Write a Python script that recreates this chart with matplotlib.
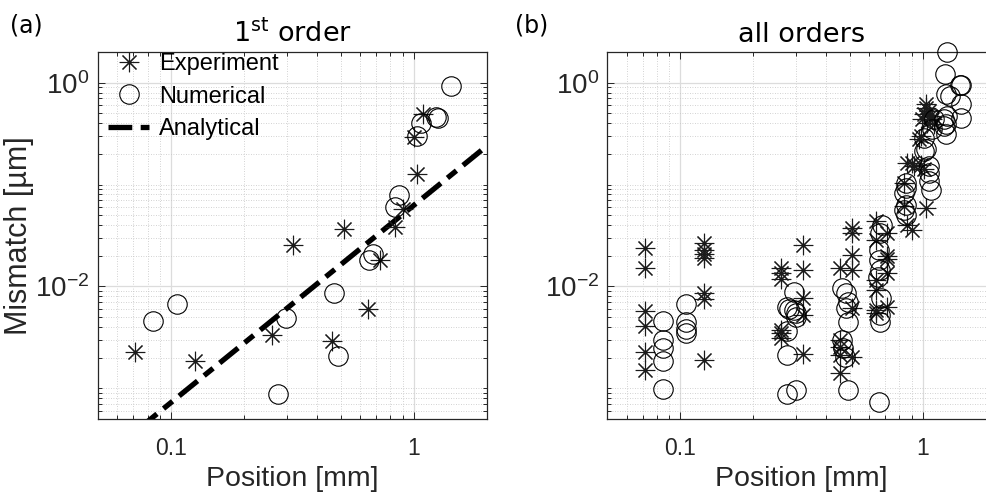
import matplotlib
matplotlib.use('Agg')
import matplotlib.pyplot as plt
from matplotlib.ticker import FixedLocator, NullFormatter

plt.rcParams['font.family'] = ['Liberation Sans', 'DejaVu Sans']
plt.rcParams['mathtext.fontset'] = 'custom'
plt.rcParams['mathtext.rm'] = 'Liberation Sans'
plt.rcParams['mathtext.it'] = 'Liberation Sans:italic'
plt.rcParams['mathtext.bf'] = 'Liberation Sans:bold'

# ---------------- data: (a) 1st order ----------------
exp1_x = [0.071, 0.125, 0.26, 0.46, 0.647, 0.724, 0.319, 0.514, 0.835, 0.904, 1.03, 1.0, 1.09]
exp1_y = [0.00229, 0.00184, 0.00336, 0.00294, 0.00603, 0.0183, 0.0254, 0.0367, 0.0387, 0.0578,
          0.128, 0.294, 0.488]

num1_x = [0.0843, 0.106, 0.297, 0.275, 0.467, 0.487, 0.656, 0.679, 0.835, 0.867, 1.03, 1.066,
          1.23, 1.26, 1.418]
num1_y = [0.00455, 0.00665, 0.00492, 0.000877, 0.0086, 0.00206, 0.0183, 0.0207, 0.06, 0.0795,
          0.3, 0.404, 0.462, 0.445, 0.928]

ana_x = [0.05, 2.0]
ana_y = [1.9e-4, 0.24]

# ---------------- data: (b) all orders ----------------
expA_x = [0.0717] * 6 + [0.1256] * 7 + [0.26] * 6 + [0.32] * 5 + [0.457] * 5 + [0.511] * 6 \
    + [0.638] * 6 + [0.713] * 5 \
    + [1.025, 1.058, 1.009, 1.093, 1.042, 1.11, 0.978, 0.963, 0.904, 0.863, 0.978, 1.009, 0.918,
       0.835, 0.835, 1.025, 0.863, 0.904, 1.025, 1.07, 0.99]
expA_y = [0.0241, 0.0153, 0.00574, 0.00408, 0.00228, 0.0015] \
    + [0.0267, 0.0229, 0.0207, 0.019, 0.00857, 0.00753, 0.00189] \
    + [0.0151, 0.0137, 0.01178, 0.00373, 0.00346, 0.00309] \
    + [0.0256, 0.01456, 0.00765, 0.00524, 0.00216] \
    + [0.0151, 0.00297, 0.00255, 0.00211, 0.0014] \
    + [0.0374, 0.0334, 0.0204, 0.01456, 0.0061, 0.00203] \
    + [0.0434, 0.0287, 0.01159, 0.00924, 0.00586, 0.00544] \
    + [0.0334, 0.0197, 0.01853, 0.01368, 0.00632] \
    + [0.614, 0.527, 0.49, 0.436, 0.405, 0.39, 0.299, 0.277, 0.164, 0.164, 0.157, 0.141, 0.151,
       0.104, 0.061, 0.0589, 0.0404, 0.036, 0.57, 0.47, 0.44]

numA_x = [0.0848] * 5 + [0.106] * 4 \
    + [0.294, 0.274, 0.294, 0.2985, 0.274, 0.274, 0.274, 0.2985, 0.30, 0.28] \
    + [0.465, 0.48, 0.49, 0.48, 0.49, 0.465, 0.47, 0.475, 0.49] \
    + [0.68, 0.665, 0.66, 0.662, 0.665, 0.65, 0.67, 0.665, 0.665, 0.66] \
    + [1.253, 1.229, 1.42, 1.43, 1.24, 1.43, 1.253, 1.43, 1.22, 1.24, 1.24, 1.11, 1.093, 1.025,
       1.009, 1.058, 1.058, 1.058, 1.076, 0.848, 0.848, 0.835, 0.848, 0.835, 0.848, 1.22, 1.29,
       1.009]
numA_y = [0.00457, 0.00297, 0.00249, 0.00185, 0.000977] \
    + [0.00673, 0.0045, 0.00378, 0.00346] \
    + [0.00889, 0.00632, 0.00586, 0.00544, 0.00367, 0.00211, 0.000887, 0.000955, 0.0050, 0.0060] \
    + [0.0096, 0.00857, 0.00708, 0.0061, 0.0045, 0.00297, 0.00246, 0.00203, 0.000955] \
    + [0.0404, 0.0334, 0.0229, 0.01824, 0.01456, 0.0125, 0.00765, 0.00524, 0.0045, 0.000733] \
    + [2.01, 1.21, 0.945, 0.94, 0.77, 0.614, 0.471, 0.454, 0.436, 0.39, 0.311, 0.436, 0.348, 0.221,
       0.288, 0.151, 0.13, 0.108, 0.0893, 0.104, 0.0929, 0.0828, 0.0635, 0.0567, 0.0506, 0.375,
       0.741, 0.213]

x_major = [0.1, 1]
x_major_labels = ['0.1', '1']
y_major = [1e-2, 1]
y_major_labels = [r'$10^{-2}$', r'$10^{0}$']

# ---------------- figure ----------------
W, H = 986, 492
fig = plt.figure(figsize=(W / 100, H / 100), dpi=100)
top_px, bot_px = 52, 419
axL = fig.add_axes([98 / W, (H - bot_px) / H, (487 - 98) / W, (bot_px - top_px) / H])
axR = fig.add_axes([607.3 / W, (H - bot_px) / H, (996 - 607.3) / W, (bot_px - top_px) / H])

STAR = (8, 2, 0)
INK = '#262626'


def style(ax):
    ax.set_xscale('log')
    ax.set_yscale('log')
    ax.set_xlim(0.05, 2)
    ax.set_ylim(5e-4, 2)
    ax.xaxis.set_major_locator(FixedLocator(x_major))
    ax.set_xticklabels(x_major_labels)
    xminor = [k * 10.0 ** e for e in (-2, -1, 0) for k in range(1, 10)]
    xminor = [v for v in xminor if 0.05 <= v <= 2.0001 and v not in (0.1, 1.0)]
    ax.xaxis.set_minor_locator(FixedLocator(xminor))
    ax.xaxis.set_minor_formatter(NullFormatter())
    ax.yaxis.set_major_locator(FixedLocator(y_major))
    ax.set_yticklabels(y_major_labels)
    yminor = [k * 10.0 ** e for e in (-4, -3, -2, -1, 0) for k in range(1, 10)]
    yminor = [v for v in yminor if 5e-4 <= v <= 2.0001 and v not in (1e-2, 1.0)]
    ax.yaxis.set_minor_locator(FixedLocator(yminor))
    ax.yaxis.set_minor_formatter(NullFormatter())
    ax.grid(which='major', color='#dcdcdc', linestyle='-', linewidth=0.9)
    ax.grid(which='minor', color='#c4c4c4', linestyle=(0, (1, 2)), linewidth=0.6)
    ax.set_axisbelow(True)
    ax.tick_params(which='both', direction='in', top=True, right=True, color=INK,
                   labelcolor=INK, width=0.7)
    ax.tick_params(which='major', length=5)
    ax.tick_params(which='minor', length=3)
    ax.tick_params(axis='x', labelsize=16.5, pad=13)
    ax.tick_params(axis='y', labelsize=20, pad=6)
    for s in ax.spines.values():
        s.set_color(INK)
        s.set_linewidth(0.9)
    ax.set_xlabel('Position [mm]', fontsize=20.5, color=INK, labelpad=4)


def markers(ax, ex, ey, nx, ny):
    h1, = ax.plot(ex, ey, linestyle='none', marker=STAR, ms=14, mew=0.8, mec='#1a1a1a',
                  mfc='none', clip_on=False, zorder=3)
    h2, = ax.plot(nx, ny, linestyle='none', marker='o', ms=14, mew=0.8, mec='black',
                  mfc='none', clip_on=False, zorder=3)
    return h1, h2


style(axL)
style(axR)

h1, h2 = markers(axL, exp1_x, exp1_y, num1_x, num1_y)
h3, = axL.plot(ana_x, ana_y, color='black', lw=3.8, linestyle=(0, (4.5, 1.6, 2.2, 1.6)),
               dash_capstyle='butt', zorder=2.8)
markers(axR, expA_x, expA_y, numA_x, numA_y)

axL.set_ylabel('Mismatch [µm]', fontsize=22, color=INK)
axL.yaxis.set_label_coords(-0.165, 0.5)

axL.set_title(r'1$^{\mathregular{st}}$ order', fontsize=19.5, family='DejaVu Sans', pad=7)
axR.set_title('all orders', fontsize=19.5, family='DejaVu Sans', pad=7)

fig.text(10 / W, 1 - 14 / H, '(a)', fontsize=17, family='DejaVu Sans', va='top', ha='left')
fig.text(515 / W, 1 - 14 / H, '(b)', fontsize=17, family='DejaVu Sans', va='top', ha='left')

leg = axL.legend([h1, h2, h3], ['Experiment', 'Numerical', 'Analytical'], loc='upper left',
                 bbox_to_anchor=(10 / 389, 1 - 1 / 367), frameon=False, fontsize=17,
                 borderaxespad=0, borderpad=0, handlelength=1.75, handletextpad=0.4,
                 labelspacing=0.45)

fig.savefig('out.png', dpi=100)
